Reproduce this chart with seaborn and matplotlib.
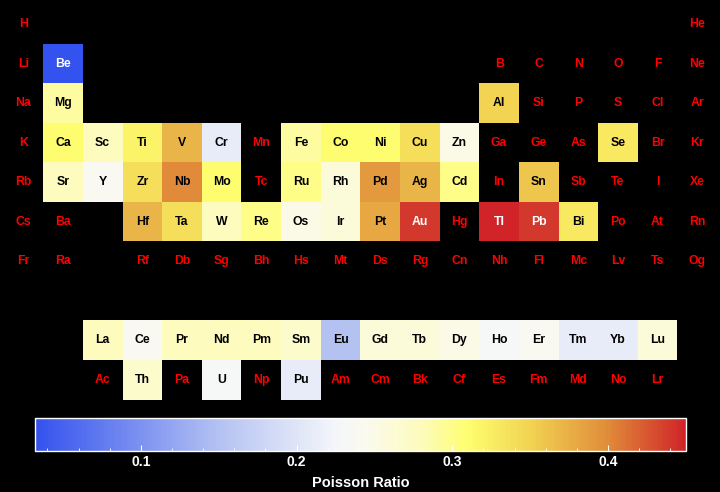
import numpy as np
import pandas as pd
import matplotlib
matplotlib.use("Agg")
import matplotlib.pyplot as plt
from matplotlib.colors import LinearSegmentedColormap
from matplotlib.ticker import MultipleLocator
import seaborn as sns

# ---- periodic table layout (10 rows x 18 groups, row 8 is the gap) ----
table_rows = [
    ["H"] + [""] * 16 + ["He"],
    ["Li", "Be"] + [""] * 10 + ["B", "C", "N", "O", "F", "Ne"],
    ["Na", "Mg"] + [""] * 10 + ["Al", "Si", "P", "S", "Cl", "Ar"],
    ["K", "Ca", "Sc", "Ti", "V", "Cr", "Mn", "Fe", "Co", "Ni", "Cu", "Zn", "Ga", "Ge", "As", "Se", "Br", "Kr"],
    ["Rb", "Sr", "Y", "Zr", "Nb", "Mo", "Tc", "Ru", "Rh", "Pd", "Ag", "Cd", "In", "Sn", "Sb", "Te", "I", "Xe"],
    ["Cs", "Ba", "", "Hf", "Ta", "W", "Re", "Os", "Ir", "Pt", "Au", "Hg", "Tl", "Pb", "Bi", "Po", "At", "Rn"],
    ["Fr", "Ra", "", "Rf", "Db", "Sg", "Bh", "Hs", "Mt", "Ds", "Rg", "Cn", "Nh", "Fl", "Mc", "Lv", "Ts", "Og"],
    [""] * 18,
    ["", "", "La", "Ce", "Pr", "Nd", "Pm", "Sm", "Eu", "Gd", "Tb", "Dy", "Ho", "Er", "Tm", "Yb", "Lu", ""],
    ["", "", "Ac", "Th", "Pa", "U", "Np", "Pu", "Am", "Cm", "Bk", "Cf", "Es", "Fm", "Md", "No", "Lr", ""],
]

# ---- Poisson ratio data ----
elements = ["Be", "Mg", "Al", "Ca", "Sc", "Ti", "V", "Cr", "Fe", "Co", "Ni", "Cu", "Zn", "Se",
            "Sr", "Y", "Zr", "Nb", "Mo", "Ru", "Rh", "Pd", "Ag", "Cd", "Sn",
            "Hf", "Ta", "W", "Re", "Os", "Ir", "Pt", "Au", "Tl", "Pb", "Bi",
            "La", "Ce", "Pr", "Nd", "Pm", "Sm", "Eu", "Gd", "Tb", "Dy", "Ho", "Er", "Tm", "Yb", "Lu",
            "Th", "U", "Pu"]
poisson = [0.032, 0.29, 0.35, 0.31, 0.28, 0.32, 0.37, 0.21, 0.29, 0.31, 0.31, 0.34, 0.25, 0.33,
           0.28, 0.24, 0.34, 0.40, 0.31, 0.30, 0.26, 0.39, 0.37, 0.30, 0.36,
           0.37, 0.34, 0.28, 0.30, 0.25, 0.26, 0.38, 0.44, 0.45, 0.44, 0.33,
           0.28, 0.24, 0.28, 0.28, 0.28, 0.27, 0.15, 0.26, 0.26, 0.25, 0.23, 0.24, 0.21, 0.21, 0.26,
           0.27, 0.23, 0.21]

cbar_ticks = [0.1, 0.2, 0.3, 0.4]
cbar_label = "Poisson Ratio"

# ---- build matrix ----
lookup = dict(zip(elements, poisson))
mat = np.full((len(table_rows), 18), np.nan)
for i, row in enumerate(table_rows):
    for j, s in enumerate(row):
        if s in lookup:
            mat[i, j] = lookup[s]
df = pd.DataFrame(mat)

vmin, vmax = min(poisson), max(poisson)

def pos(v):
    return (v - vmin) / (vmax - vmin)

cmap = LinearSegmentedColormap.from_list("bwyr", [
    (0.0, "#3352EE"),
    (pos(0.15), "#B4C2F2"),
    (pos(0.225), "#F4F6FA"),
    (pos(0.245), "#FAFAEE"),
    (pos(0.28), "#FDFBBC"),
    (pos(0.31), "#FEFE70"),
    (pos(0.35), "#F2D452"),
    (pos(0.40), "#E08C3A"),
    (1.0, "#D02428"),
])

fig = plt.figure(figsize=(7.2, 4.92), dpi=100, facecolor="black")
ax = fig.add_axes([0.005, 0.188, 0.991, 0.803])
cax = fig.add_axes([0.0486, 0.0833, 0.904, 0.0665])
ax.set_facecolor("black")

sns.heatmap(df, ax=ax, cmap=cmap, vmin=vmin, vmax=vmax, cbar=True, cbar_ax=cax,
            cbar_kws={"orientation": "horizontal"}, linewidths=0, square=False,
            xticklabels=False, yticklabels=False)
ax.set_xlabel("")
ax.set_ylabel("")

font = "Liberation Sans"
for i, row in enumerate(table_rows):
    for j, s in enumerate(row):
        if not s:
            continue
        v = mat[i, j]
        if np.isnan(v):
            col = "#FF0000"
        elif v < 0.1 or v > 0.42:
            col = "white"
        else:
            col = "black"
        ax.text(j + 0.5, i + 0.5, s, ha="center", va="center", color=col,
                fontsize=8.8, fontweight="bold", family=font)

# ---- colorbar styling ----
cb = ax.collections[0].colorbar
cb.set_ticks(cbar_ticks)
cb.ax.xaxis.set_minor_locator(MultipleLocator(0.02))
cb.ax.tick_params(which="major", direction="in", length=4, width=0.8, color="white",
                  labelcolor="white", labelsize=10, pad=3)
cb.ax.tick_params(which="minor", direction="in", length=2.5, width=0.6, color="white")
for lab in cb.ax.get_xticklabels():
    lab.set_fontweight("bold")
    lab.set_family(font)
cb.outline.set_edgecolor("white")
cb.outline.set_linewidth(1)
cb.set_label(cbar_label, color="white", fontsize=10.5, fontweight="bold", family=font, labelpad=5)

fig.savefig("out.png", dpi=100, facecolor="black")
